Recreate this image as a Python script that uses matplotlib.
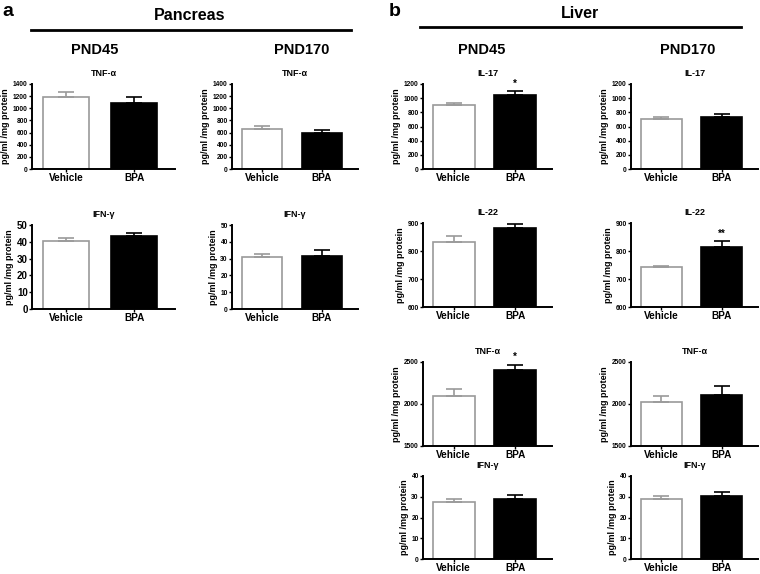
import matplotlib
matplotlib.use('Agg')
import matplotlib.pyplot as plt
from matplotlib.lines import Line2D

plt.rcParams['font.family'] = ['Liberation Sans', 'DejaVu Sans']

# groups on the x axis
groups = ['Vehicle', 'BPA']

# pancreas values (mean, sem)
panc_tnf_45 = [1180, 1090]
panc_tnf_45_err = [85, 95]
panc_tnf_170 = [660, 590]
panc_tnf_170_err = [50, 45]
panc_ifn_45 = [40.2, 43.6]
panc_ifn_45_err = [2.0, 1.7]
panc_ifn_170 = [30.8, 31.5]
panc_ifn_170_err = [2.2, 3.5]

# liver values (mean, sem)
liv_il17_45 = [900, 1040]
liv_il17_45_err = [25, 60]
liv_il17_170 = [710, 740]
liv_il17_170_err = [25, 35]
liv_il22_45 = [832, 881]
liv_il22_45_err = [22, 15]
liv_il22_170 = [742, 813]
liv_il22_170_err = [6, 22]
liv_tnf_45 = [2090, 2400]
liv_tnf_45_err = [90, 70]
liv_tnf_170 = [2020, 2110]
liv_tnf_170_err = [75, 100]
liv_ifn_45 = [27.5, 29.0]
liv_ifn_45_err = [1.3, 1.8]
liv_ifn_170 = [29.0, 30.3]
liv_ifn_170_err = [1.2, 2.0]

W, H = 760, 574
fig = plt.figure(figsize=(W / 100, H / 100), dpi=100)
colors = ['#9a9a9a', 'black']
fills = ['white', 'black']


def px_axes(l, t, r, b):
    return fig.add_axes([l / W, 1 - b / H, (r - l) / W, (b - t) / H])


def bar_panel(box, title, vals, errs, yticks, stars='', tick_fs=4.8):
    ax = px_axes(*box)
    for i in range(2):
        ax.bar(i, vals[i], width=0.68, color=fills[i], edgecolor=colors[i], linewidth=1.2)
        ax.errorbar(i, vals[i], yerr=[[0], [errs[i]]], fmt='none', ecolor=colors[i],
                    elinewidth=1.2, capsize=6, capthick=1.2)
    ax.set_ylim(yticks[0], yticks[-1])
    ax.set_yticks(yticks)
    ax.set_xlim(-0.5, 1.6)
    ax.set_xticks([0, 1])
    ax.set_xticklabels(groups, fontsize=7.2, fontweight='bold')
    for lab in ax.get_yticklabels():
        lab.set_fontsize(tick_fs)
        lab.set_fontweight('bold')
    ax.tick_params(axis='both', direction='out', length=2, width=1, pad=1)
    ax.tick_params(axis='x', pad=0.6)
    for s in ['top', 'right']:
        ax.spines[s].set_visible(False)
    for s in ['left', 'bottom']:
        ax.spines[s].set_linewidth(1.4)
    ax.set_ylabel('pg/ml /mg protein', fontsize=6.5, fontweight='bold', labelpad=2)
    ax.set_title(title, fontsize=6.5, fontweight='bold', pad=6)
    if stars:
        span = yticks[-1] - yticks[0]
        ax.text(1, vals[1] + errs[1] + span * 0.03, stars, ha='center', va='bottom',
                fontsize=7, fontweight='bold')
    return ax


# pancreas
bar_panel((32, 84, 175, 169), 'TNF-α', panc_tnf_45, panc_tnf_45_err, list(range(0, 1401, 200)))
bar_panel((232, 84, 358, 169), 'TNF-α', panc_tnf_170, panc_tnf_170_err, list(range(0, 1401, 200)))
bar_panel((32, 225, 175, 309), 'IFN-γ', panc_ifn_45, panc_ifn_45_err, list(range(0, 51, 10)), tick_fs=7)
bar_panel((232, 225, 358, 309), 'IFN-γ', panc_ifn_170, panc_ifn_170_err, list(range(0, 51, 10)))

# liver
bar_panel((423, 84, 552, 169), 'IL-17', liv_il17_45, liv_il17_45_err, list(range(0, 1201, 200)), '*')
bar_panel((631, 84, 758, 169), 'IL-17', liv_il17_170, liv_il17_170_err, list(range(0, 1201, 200)))
bar_panel((423, 223, 552, 307), 'IL-22', liv_il22_45, liv_il22_45_err, list(range(600, 901, 100)))
bar_panel((631, 223, 758, 307), 'IL-22', liv_il22_170, liv_il22_170_err, list(range(600, 901, 100)), '**')
bar_panel((423, 362, 552, 446), 'TNF-α', liv_tnf_45, liv_tnf_45_err, [1500, 2000, 2500], '*')
bar_panel((631, 362, 758, 446), 'TNF-α', liv_tnf_170, liv_tnf_170_err, [1500, 2000, 2500])
bar_panel((423, 476, 552, 559), 'IFN-γ', liv_ifn_45, liv_ifn_45_err, list(range(0, 41, 10)))
bar_panel((631, 476, 758, 559), 'IFN-γ', liv_ifn_170, liv_ifn_170_err, list(range(0, 41, 10)))


def ftext(x, y, s, **kw):
    fig.text(x / W, 1 - y / H, s, ha='center', va='center', fontweight='bold', **kw)


# headers
ftext(8, 12, 'a', fontsize=14)
ftext(190, 15, 'Pancreas', fontsize=11.5)
fig.add_artist(Line2D([31 / W, 351 / W], [1 - 30 / H, 1 - 30 / H], color='black', linewidth=2))
ftext(395, 12, 'b', fontsize=14)
ftext(580, 13, 'Liver', fontsize=11.5)
fig.add_artist(Line2D([420 / W, 741 / W], [1 - 27 / H, 1 - 27 / H], color='black', linewidth=2))

ftext(95, 50, 'PND45', fontsize=10.5)
ftext(302, 50, 'PND170', fontsize=10.5)
ftext(482, 50, 'PND45', fontsize=10.5)
ftext(688, 50, 'PND170', fontsize=10.5)

plt.savefig('out.png', dpi=100)
